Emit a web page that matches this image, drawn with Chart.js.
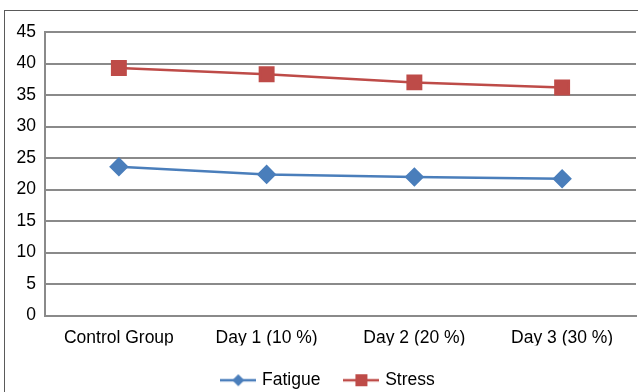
<!DOCTYPE html>
<html>
<head>
<meta charset="utf-8">
<script src="https://cdn.jsdelivr.net/npm/chart.js@4/dist/chart.umd.min.js"></script>
<style>
  html, body { margin: 0; padding: 0; background: #fff; }
  #wrap { position: relative; width: 638px; height: 392px; overflow: hidden; }
  #frame { position: absolute; left: 4px; top: 10px; width: 700px; height: 400px;
           border-left: 1px solid #5a5a5a; border-top: 1px solid #5a5a5a; }
  canvas { position: absolute; left: 0; top: 0; }
</style>
</head>
<body>
<div id="wrap">
  <div id="frame"></div>
  <canvas id="c" width="638" height="392"></canvas>
</div>
<script>
const categories = ["Control Group", "Day 1 (10 %)", "Day 2 (20 %)", "Day 3 (30 %)"];
const fatigue = [23.6, 22.4, 22.0, 21.7];
const stress = [39.3, 38.3, 37.0, 36.2];
const yTicks = [0, 5, 10, 15, 20, 25, 30, 35, 40, 45];

const blue = "#4a7ebb";
const red = "#be4b48";
const FONT = "'Liberation Sans', Arial, sans-serif";

function legendIcon(color, style) {
  const cv = document.createElement("canvas");
  cv.width = 36; cv.height = 14;
  const g = cv.getContext("2d");
  g.strokeStyle = color; g.lineWidth = 2.5;
  g.beginPath(); g.moveTo(0, 7); g.lineTo(36, 7); g.stroke();
  g.fillStyle = color;
  if (style === "diamond") {
    g.beginPath(); g.moveTo(18, 1); g.lineTo(24, 7); g.lineTo(18, 13); g.lineTo(12, 7); g.closePath(); g.fill();
  } else {
    g.fillRect(12, 1, 12, 12);
  }
  return cv;
}
const icons = [legendIcon(blue, "diamond"), legendIcon(red, "square")];

const shiftLegend = {
  id: "shiftLegend",
  afterLayout(chart) {
    const l = chart.legend;
    if (l) { l.left += 11; l.right += 11; }
  }
};

new Chart(document.getElementById("c"), {
  type: "line",
  data: {
    labels: categories,
    datasets: [
      { label: "Fatigue", data: fatigue, borderColor: blue, backgroundColor: blue,
        borderWidth: 2.5, pointStyle: "rectRot", pointRadius: 8, pointHoverRadius: 8, tension: 0 },
      { label: "Stress", data: stress, borderColor: red, backgroundColor: red,
        borderWidth: 2.5, pointStyle: "rect", pointRadius: 9.5, pointHoverRadius: 9.5, tension: 0 }
    ]
  },
  plugins: [shiftLegend],
  options: {
    responsive: false,
    animation: false,
    layout: { autoPadding: false, padding: { left: 0, right: 2, top: 32, bottom: -7 } },
    plugins: {
      tooltip: { enabled: false },
      legend: {
        position: "bottom",
        labels: {
          usePointStyle: true,
          pointStyleWidth: 30,
          color: "#000",
          font: { family: FONT, size: 17.5 },
          boxHeight: 14, padding: 26,
          generateLabels: (chart) => chart.data.datasets.map((d, i) => ({
            text: d.label, pointStyle: icons[i], fillStyle: d.borderColor,
            strokeStyle: d.borderColor, lineWidth: 0, datasetIndex: i, hidden: false
          }))
        }
      }
    },
    scales: {
      x: {
        offset: true,
        grid: { display: false, drawTicks: false },
        border: { display: true, color: "#8a8a8a", width: 2 },
        afterFit: (s) => { s.height = 30; s.paddingLeft = 0; s.paddingRight = 0; },
        ticks: { color: "#000", padding: 12, maxRotation: 0,
                 font: { family: FONT, size: 17.5 } }
      },
      y: {
        min: 0, max: 45,
        afterBuildTicks: (s) => { s.ticks = yTicks.map(v => ({ value: v })); },
        afterFit: (s) => { s.width = 45; },
        grid: { color: "#8a8a8a", lineWidth: 2, drawTicks: false },
        border: { display: true, color: "#8a8a8a", width: 2 },
        ticks: { color: "#000", padding: 9,
                 font: { family: FONT, size: 17.5 } }
      }
    }
  }
});
</script>
</body>
</html>
